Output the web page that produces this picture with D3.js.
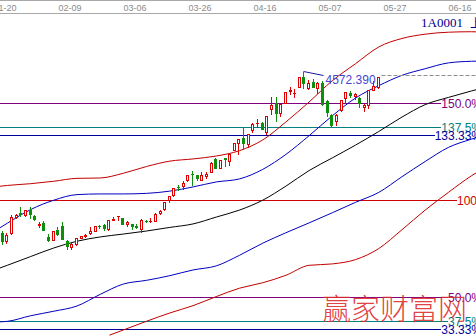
<!DOCTYPE html>
<html>
<head>
<meta charset="utf-8">
<script src="https://cdn.jsdelivr.net/npm/d3@7"></script>
<style>
  html, body { margin: 0; padding: 0; background: #fff; }
  svg { display: block; font-family: "Liberation Sans", Arial, sans-serif; }
</style>
</head>
<body>
<svg id="chart" width="476" height="336"></svg>
<script>
(function () {
  // bar index of the first candle (01-20 is index 0)
  var FIRST_INDEX = -1;

  var dates = [
    "01-19","01-20","01-21","01-22","01-23","01-26","01-27","01-28","01-29","01-30",
    "02-02","02-03","02-04","02-05","02-06","02-09","02-10","02-11","02-12","02-13",
    "02-16","02-17","02-25","02-26","02-27","03-02","03-03","03-04","03-05","03-06",
    "03-09","03-10","03-11","03-12","03-13","03-16","03-17","03-18","03-19","03-20",
    "03-23","03-24","03-25","03-26","03-27","03-30","03-31","04-01","04-02","04-03",
    "04-07","04-08","04-09","04-10","04-13","04-14","04-15","04-16","04-17","04-20",
    "04-21","04-22","04-23","04-24","04-27","04-28","04-29","04-30","05-04","05-05",
    "05-06","05-07","05-08","05-11","05-12","05-13","05-14","05-15","05-18","05-19",
    "05-20","05-21"
  ];
  var opens = [
    3189,3114,3189,3327,3357,3345,3380,3331,3258,3273,
    3148,3130,3212,3250,3120,3062,3091,3145,3157,3186,
    3207,3250,3258,3223,3300,3332,3317,3264,3264,3249,
    3224,3290,3289,3290,3359,3391,3469,3517,3583,3589,
    3640,3693,3685,3642,3680,3710,3822,3748,3829,3803,
    3899,3962,4002,3955,4076,4130,4135,4055,4254,4301,
    4216,4304,4405,4393,4441,4527,4435,4483,4432,4479,
    4319,4203,4146,4242,4346,4389,4366,4348,4270,4285,
    4414,4440
  ];
  var highs = [
    3200,3190,3337,3353,3406,3384,3406,3345,3278,3288,
    3175,3205,3237,3278,3130,3100,3142,3162,3180,3237,
    3250,3257,3260,3300,3324,3336,3318,3286,3266,3266,
    3303,3302,3311,3361,3383,3449,3503,3577,3600,3632,
    3689,3715,3685,3709,3711,3795,3835,3817,3835,3865,
    3961,3995,4090,4034,4129,4168,4144,4194,4356,4356,
    4293,4398,4444,4422,4529,4572.39,4499,4507,4488,4490,
    4331,4212,4207,4333,4402,4409,4389,4356,4299,4417,
    4494,4529
  ];
  var lows = [
    3095,3103,3176,3313,3330,3328,3311,3295,3234,3210,
    3116,3130,3170,3135,3050,3049,3082,3139,3152,3180,
    3200,3231,3215,3208,3296,3298,3260,3250,3221,3229,
    3198,3277,3281,3288,3348,3385,3454,3508,3553,3567,
    3635,3600,3642,3640,3660,3710,3742,3742,3766,3769,
    3899,3867,3906,3925,4052,4096,4077,4037,4211,4152,
    4193,4302,4383,4353,4441,4432,4424,4441,4386,4287,
    4190,4099,4119,4236,4300,4352,4340,4273,4232,4260,
    4414,4431
  ];
  var closes = [
    3116,3173,3323,3343,3351,3383,3352,3305,3262,3210,
    3128,3204,3174,3136,3076,3095,3141,3158,3173,3203,
    3247,3246,3228,3298,3310,3336,3263,3280,3248,3241,
    3302,3286,3290,3349,3373,3449,3502,3577,3582,3617,
    3687,3691,3660,3682,3691,3786,3748,3810,3825,3863,
    3961,3995,3957,4034,4121,4135,4084,4194,4287,4217,
    4293,4398,4414,4393,4527,4476,4476,4441,4480,4298,
    4229,4112,4205,4333,4401,4375,4378,4308,4283,4417,
    4446,4529
  ];

  // top date axis: a label every 14 bars
  var tickIndex = [0, 14, 28, 42, 56, 70, 84, 98];
  var tickLabels = ["01-20", "02-09", "03-06", "03-26", "04-16", "05-07", "05-27", "06-16"];

  // channel lines, sampled by bar index
  var bandIndex = [-2, 0, 5, 10, 15, 20, 25, 30, 35, 40, 45, 50, 55, 60, 65, 70, 75, 80, 85, 90, 95, 100, 102];
  var upperRed = [3586,3595,3610,3631,3656,3659,3700,3758,3804,3823,3848,3894,3986,4141,4313,4496,4642,4786,4859,4896,4913,4917,4915];
  var upperBlue = [3221,3270,3387,3468,3516,3522,3522,3527,3546,3582,3625,3651,3733,3862,4023,4194,4347,4453,4542,4599,4649,4663,4665];
  var midBlack = [2879,2908,2983,3057,3115,3152,3177,3203,3234,3264,3323,3383,3468,3589,3723,3832,3942,4059,4183,4290,4352,4408,4429];
  var lowerBlue = [2421,2426,2474,2513,2558,2658,2747,2779,2819,2868,2903,2994,3098,3188,3273,3360,3450,3535,3670,3801,3922,3994,4020];
  var lowerRedIndex = [22, 25, 30, 35, 40, 45, 50, 55, 60, 65, 70, 75, 80, 85, 90, 95, 100, 102];
  var lowerRed = [2307,2352,2427,2498,2561,2639,2711,2758,2822,2908,2920,2957,3052,3214,3383,3535,3679,3728];

  // percentage levels
  var levelLabels = ["150.0%", "137.5%", "133.33%", "100", "50.0%", "37.5%", "33.33%"];
  var levelPrices = [4304, 4097, 4026, 3470, 2636, 2427, 2358];
  var levelColors = ["#800080", "#008080", "#000099", "#d00000", "#800080", "#008080", "#000099"];

  var peakLabel = "4572.390";

  var W = 476, H = 336;
  var RED = "#e00000", GREEN = "#0c900c";
  var svg = d3.select("#chart");

  var x = d3.scaleLinear().domain([0, 14]).range([5, 70]);
  var y = d3.scaleLinear().domain([2300, 5190]).range([H, 0]);
  function cx(i) { return Math.round(x(i + 0.5)) - 0.5; }
  function py(v) { return Math.round(y(v)) + 0.5; }

  svg.append("clipPath").attr("id", "plot").append("rect")
    .attr("x", 0).attr("y", 14).attr("width", W).attr("height", H - 14);
  var plot = svg.append("g").attr("clip-path", "url(#plot)");

  // level lines with labels on the right
  var levels = plot.append("g");
  for (var k = 0; k < levelPrices.length; k++) {
    var ly = py(levelPrices[k]);
    var pct = levelLabels[k].indexOf("%") >= 0;
    var t = levels.append("text")
      .attr("x", pct ? W + 6 : W + 1).attr("y", ly)
      .attr("text-anchor", "end").attr("dominant-baseline", "central")
      .attr("font-size", 12).attr("fill", levelColors[k])
      .text(levelLabels[k]);
    var lx = W + (pct ? 6 : 1) - t.node().getComputedTextLength();
    levels.append("line")
      .attr("x1", 0).attr("x2", Math.round(lx))
      .attr("y1", ly).attr("y2", ly)
      .attr("stroke", levelColors[k]).attr("stroke-width", 1);
  }

  // watermark
  svg.append("text")
    .attr("x", 322).attr("y", 320)
    .attr("font-family", "'Noto Sans CJK SC', sans-serif")
    .attr("font-size", 29).attr("font-weight", 300)
    .attr("fill", "#dd2a2a").attr("fill-opacity", 0.9)
    .text("赢家财富网");

  // channel lines
  function drawBand(idx, vals, color) {
    var pts = idx.map(function (d, j) { return [x(d + 0.5), y(vals[j])]; });
    plot.append("path").datum(pts)
      .attr("fill", "none").attr("stroke", color).attr("stroke-width", 1)
      .attr("d", d3.line().curve(d3.curveMonotoneX));
  }
  drawBand(lowerRedIndex, lowerRed, "#c00000");
  drawBand(bandIndex, lowerBlue, "#0000c0");
  drawBand(bandIndex, midBlack, "#000000");
  drawBand(bandIndex, upperBlue, "#0000c0");
  drawBand(bandIndex, upperRed, "#c00000");

  // candles
  var candles = plot.append("g");
  for (var j = 0; j < dates.length; j++) {
    var i = FIRST_INDEX + j;
    var o = opens[j], c = closes[j], hi = highs[j], lo = lows[j];
    var xc = cx(i);
    var top = py(Math.max(o, c)), bot = py(Math.min(o, c));
    var up = c >= o;
    var col = up ? RED : GREEN;
    if (up) {
      candles.append("line").attr("x1", xc).attr("x2", xc).attr("y1", py(hi) - 0.5).attr("y2", top).attr("stroke", col);
      candles.append("line").attr("x1", xc).attr("x2", xc).attr("y1", bot).attr("y2", py(lo) + 0.5).attr("stroke", col);
      if (bot - top < 1) {
        candles.append("line").attr("x1", xc - 1.5).attr("x2", xc + 1.5).attr("y1", top).attr("y2", top).attr("stroke", col);
      } else {
        candles.append("rect").attr("x", xc - 1).attr("y", top).attr("width", 2).attr("height", bot - top)
          .attr("fill", "#fff").attr("stroke", col).attr("stroke-width", 1);
      }
    } else {
      candles.append("line").attr("x1", xc).attr("x2", xc).attr("y1", py(hi) - 0.5).attr("y2", py(lo) + 0.5).attr("stroke", col);
      candles.append("rect").attr("x", xc - 1.5).attr("y", top - 0.5).attr("width", 3).attr("height", Math.max(1, bot - top + 1))
        .attr("fill", col);
    }
  }

  // highest point marker
  var peakJ = d3.maxIndex(highs);
  var peakX = cx(FIRST_INDEX + peakJ), peakY = py(highs[peakJ]) - 1;
  plot.append("path")
    .attr("d", "M" + peakX + "," + peakY + "L" + (peakX + 20) + "," + (peakY + 4))
    .attr("fill", "none").attr("stroke", "#1a1aa0");
  plot.append("text")
    .attr("x", peakX + 22).attr("y", peakY + 8)
    .attr("dominant-baseline", "central")
    .attr("font-size", 12).attr("fill", "#4646d2")
    .text(peakLabel);

  // last close dashed line
  var lastJ = closes.length - 1;
  var lastY = py(closes[lastJ]) - 2;
  plot.append("line")
    .attr("x1", cx(FIRST_INDEX + lastJ) + 3).attr("x2", W)
    .attr("y1", lastY).attr("y2", lastY)
    .attr("stroke", "#909090").attr("stroke-dasharray", "4,2");

  // top date strip
  svg.append("line").attr("x1", 0).attr("x2", W).attr("y1", 0.5).attr("y2", 0.5).attr("stroke", "#a8a8a8");
  svg.append("line").attr("x1", 0).attr("x2", W).attr("y1", 13.5).attr("y2", 13.5).attr("stroke", "#a8a8a8");
  svg.append("g").selectAll("text").data(tickIndex).enter().append("text")
    .attr("x", function (d) { return x(d); }).attr("y", 7.5)
    .attr("text-anchor", "middle").attr("dominant-baseline", "central")
    .attr("font-size", 9).attr("fill", "#8c8c8c")
    .text(function (d, j) { return tickLabels[j]; });

  // symbol caption
  svg.append("text")
    .attr("x", 421).attr("y", 22).attr("dominant-baseline", "central")
    .attr("font-family", "'Liberation Serif', serif").attr("font-size", 13).attr("fill", "#000090")
    .text("1A0001");
  svg.append("text")
    .attr("x", 470).attr("y", 22).attr("dominant-baseline", "central")
    .attr("font-family", "'Noto Sans CJK SC', sans-serif").attr("font-size", 12).attr("fill", "#000090")
    .text("上证指数");
})();
</script>
</body>
</html>
